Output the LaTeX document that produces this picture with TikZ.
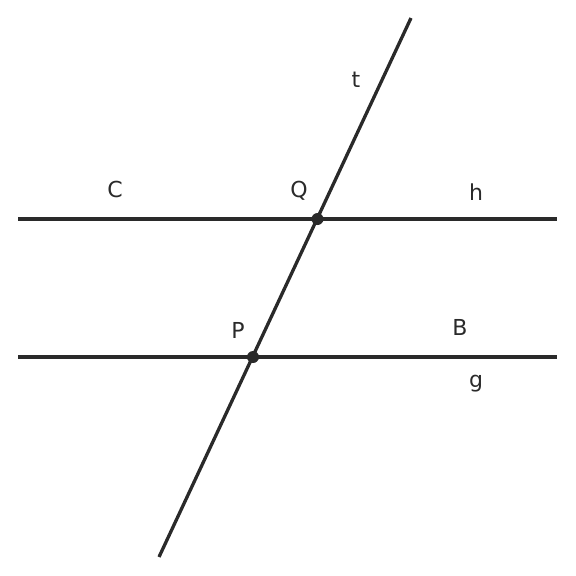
\documentclass[tikz,border=0pt]{standalone}
\usepackage{fontspec}
\setmainfont{DejaVu Sans}
\definecolor{ink}{HTML}{2A2A2A}
\begin{document}
\begin{tikzpicture}[x=1pt,y=-1pt,
  ln/.style={draw=ink,line width=3.3pt},
  dot/.style={circle,fill=ink,inner sep=0pt,minimum size=12pt},
  lab/.style={text=ink,font=\fontsize{22}{26}\selectfont,inner sep=0pt}]
\useasboundingbox (0,0) rectangle (576,576);
\coordinate (h1) at (18,219);
\coordinate (h2) at (557,219);
\coordinate (g1) at (18,357);
\coordinate (g2) at (557,357);
\coordinate (t1) at (411,18);
\coordinate (t2) at (159,557);
\draw[ln] (h1) -- (h2);
\draw[ln] (g1) -- (g2);
\draw[ln] (t1) -- (t2);
\node[dot] (Q) at (317.5,219) {};
\node[dot] (P) at (253,357) {};
\node[lab] (lt) at (356,80) {t};
\node[lab] (lC) at (115,189) {C};
\node[lab] (lQ) at (299,191) {Q};
\node[lab] (lh) at (476,192) {h};
\node[lab] (lP) at (238,330) {P};
\node[lab] (lB) at (460,327) {B};
\node[lab] (lg) at (476,384) {g};
\end{tikzpicture}
\end{document}
